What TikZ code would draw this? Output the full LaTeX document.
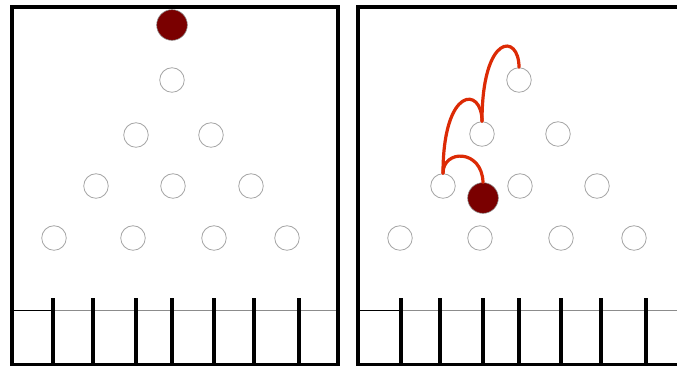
\documentclass[tikz,border=0pt]{standalone}
\begin{document}
\begin{tikzpicture}[x=0.75pt,y=-0.75pt,
  peg/.style={circle,draw=black!35,fill=white,line width=0.6pt,minimum size=18.4pt,inner sep=0pt},
  ball/.style={circle,draw=black!45,fill=ballred,line width=0.4pt,minimum size=23pt,inner sep=0pt},
  frame/.style={line width=2.4pt,black},
  post/.style={line width=2.7pt,black},
  floor/.style={line width=0.5pt,black!45},
  floordark/.style={line width=0.6pt,black},
  path/.style={line width=2.4pt,pathred,line cap=round}]
\definecolor{ballred}{HTML}{7A0000}
\definecolor{pathred}{HTML}{DC2A05}
\useasboundingbox (0,0) rectangle (677,365);
\fill[white] (0,0) rectangle (677,365);
% ---------- left panel ----------
\node[peg] (L1) at (172,80) {};
\node[peg] (L2a) at (136,135) {};
\node[peg] (L2b) at (211,135) {};
\node[peg] (L3a) at (96,186) {};
\node[peg] (L3b) at (173,186) {};
\node[peg] (L3c) at (251,186) {};
\node[peg] (L4a) at (54,238) {};
\node[peg] (L4b) at (133,238) {};
\node[peg] (L4c) at (214,238) {};
\node[peg] (L4d) at (287,238) {};
\node[ball] (LB) at (172,25) {};
\draw[floordark] (12,310) -- (53,310);
\draw[floor] (53,310) -- (338,310);
\foreach \x in {53,93,136,172,214,254,299}
  \draw[post] (\x,298) -- (\x,365);
\draw[frame] (12,7) rectangle (338,365);
% ---------- right panel ----------
\node[peg] (R1) at (519,80) {};
\node[peg] (R2a) at (482,134) {};
\node[peg] (R2b) at (558,134) {};
\node[peg] (R3a) at (443,186) {};
\node[peg] (R3b) at (520,186) {};
\node[peg] (R3c) at (597,186) {};
\node[peg] (R4a) at (400,238) {};
\node[peg] (R4b) at (480,238) {};
\node[peg] (R4c) at (561,238) {};
\node[peg] (R4d) at (634,238) {};
\node[ball] (RB) at (483,198) {};
\draw[floordark] (358,310) -- (401,310);
\draw[floor] (401,310) -- (677,310);
\foreach \x in {401,440,483,519,561,601,646}
  \draw[post] (\x,298) -- (\x,365);
\draw[frame] (690,7) -- (358,7) -- (358,365) -- (690,365);
% trajectory
\draw[path] (R2a.north) .. controls (482,33) and (519,33) .. (R1.north);
\draw[path] (R3a.north) .. controls (443,86) and (482,86) .. (R2a.north);
\draw[path] (R3a.north) .. controls (443,149) and (482,149) .. (RB.north);
\end{tikzpicture}
\end{document}
